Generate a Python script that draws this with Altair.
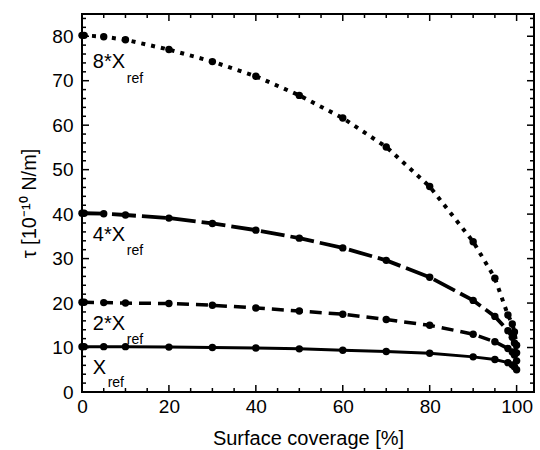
import altair as alt
import pandas as pd

# ---- data ----
coverage = [0, 0.5, 5, 10, 20, 30, 40, 50, 60, 70, 80, 90, 95, 98, 99, 99.5, 100]
tau_1x = [10.2, 10.2, 10.2, 10.2, 10.1, 10.0, 9.9, 9.7, 9.4, 9.1, 8.7, 7.9, 7.3, 6.6, 6.1, 5.7, 5.0]
tau_2x = [20.2, 20.2, 20.1, 20.0, 19.9, 19.5, 18.9, 18.2, 17.5, 16.3, 15.0, 13.0, 11.3, 9.8, 9.0, 8.3, 7.0]
tau_4x = [40.2, 40.2, 40.1, 39.8, 39.1, 37.9, 36.4, 34.6, 32.4, 29.6, 25.8, 20.6, 17.0, 13.8, 12.3, 11.0, 8.8]
tau_8x = [80.2, 80.2, 79.9, 79.2, 77.0, 74.3, 71.0, 66.7, 61.6, 55.1, 46.2, 33.8, 25.6, 17.3, 15.3, 13.5, 10.5]

series_main = ["X", "2*X", "4*X", "8*X"]
series_sub = ["ref", "ref", "ref", "ref"]
label_x = [2.5, 2.5, 2.5, 2.5]
label_y = [5.4, 15.2, 35.2, 74.3]
sub_x = [5.9, 10.3, 10.3, 10.3]
sub_y = [2.0, 11.6, 31.7, 70.4]

x_major = [0, 20, 40, 60, 80, 100]
x_minor = [5, 10, 15, 25, 30, 35, 45, 50, 55, 65, 70, 75, 85, 90, 95]
y_major = [0, 10, 20, 30, 40, 50, 60, 70, 80]
y_minor = [2, 4, 6, 8, 12, 14, 16, 18, 22, 24, 26, 28, 32, 34, 36, 38, 42, 44, 46, 48,
           52, 54, 56, 58, 62, 64, 66, 68, 72, 74, 76, 78, 82, 84]

W, H = 452, 378
FONT = "Liberation Sans"

xs = alt.Scale(domain=[0, 104], nice=False, zero=False)
ys = alt.Scale(domain=[0, 85], nice=False, zero=False)

x_axis = alt.Axis(values=x_major, format="d", labelPadding=5, titlePadding=12,
                  labelFlush=False, labelOverlap=False,
                  title="Surface coverage [%]")
y_axis = alt.Axis(values=y_major, format="d", labelPadding=9, titlePadding=12,
                  labelFlush=False, labelOverlap=False,
                  title="τ [10⁻¹⁰ N/m]")

X = alt.X("x:Q", scale=xs, axis=x_axis)
Y = alt.Y("y:Q", scale=ys, axis=y_axis)

styles = [
    (tau_1x, None, 3.0),
    (tau_2x, [12, 7], 3.5),
    (tau_4x, [24, 6], 3.8),
    (tau_8x, [4, 6], 4.0),
]

layers = []
for vals, dash, sw in styles:
    df = pd.DataFrame({"x": coverage, "y": vals})
    line_kw = dict(color="black", strokeWidth=sw, clip=True)
    if dash is not None:
        line_kw["strokeDash"] = dash
    layers.append(alt.Chart(df).mark_line(**line_kw).encode(x=X, y=Y))
    layers.append(alt.Chart(df).mark_point(filled=True, color="black", size=55,
                                           opacity=1).encode(x=X, y=Y))

# curve labels
lab_df = pd.DataFrame({"x": label_x, "y": label_y, "t": series_main})
sub_df = pd.DataFrame({"x": sub_x, "y": sub_y, "t": series_sub})
layers.append(alt.Chart(lab_df).mark_text(align="left", baseline="middle", fontSize=20,
                                          font=FONT, color="black").encode(x=X, y=Y, text="t:N"))
layers.append(alt.Chart(sub_df).mark_text(align="left", baseline="middle", fontSize=14,
                                          font=FONT, color="black").encode(x=X, y=Y, text="t:N"))

# inward ticks on all four sides
def xticks(vals, length):
    d = pd.DataFrame({"x": vals})
    bottom = alt.Chart(d).mark_rule(color="black", strokeWidth=1.5).encode(
        x=X, y=alt.value(H), y2=alt.value(H - length))
    top = alt.Chart(d).mark_rule(color="black", strokeWidth=1.5).encode(
        x=X, y=alt.value(0), y2=alt.value(length))
    return [bottom, top]

def yticks(vals, length):
    d = pd.DataFrame({"y": vals})
    left = alt.Chart(d).mark_rule(color="black", strokeWidth=1.5).encode(
        y=Y, x=alt.value(0), x2=alt.value(length))
    right = alt.Chart(d).mark_rule(color="black", strokeWidth=1.5).encode(
        y=Y, x=alt.value(W), x2=alt.value(W - length))
    return [left, right]

layers += xticks(x_major, 7) + xticks(x_minor, 4) + yticks(y_major, 7) + yticks(y_minor, 4)

chart = alt.layer(*layers).properties(
    width=W, height=H,
    autosize=alt.AutoSizeParams(type="none"),
    padding={"left": 82, "top": 14, "right": 6, "bottom": 58},
    background="white",
).configure_view(
    stroke="black", strokeWidth=2
).configure_axis(
    domain=False, ticks=False, grid=False,
    labelFont=FONT, labelFontSize=19, labelColor="black",
    titleFont=FONT, titleFontSize=20, titleColor="black", titleFontWeight="normal",
)

chart.save("out.html", embed_options={"renderer": "svg", "actions": False})
